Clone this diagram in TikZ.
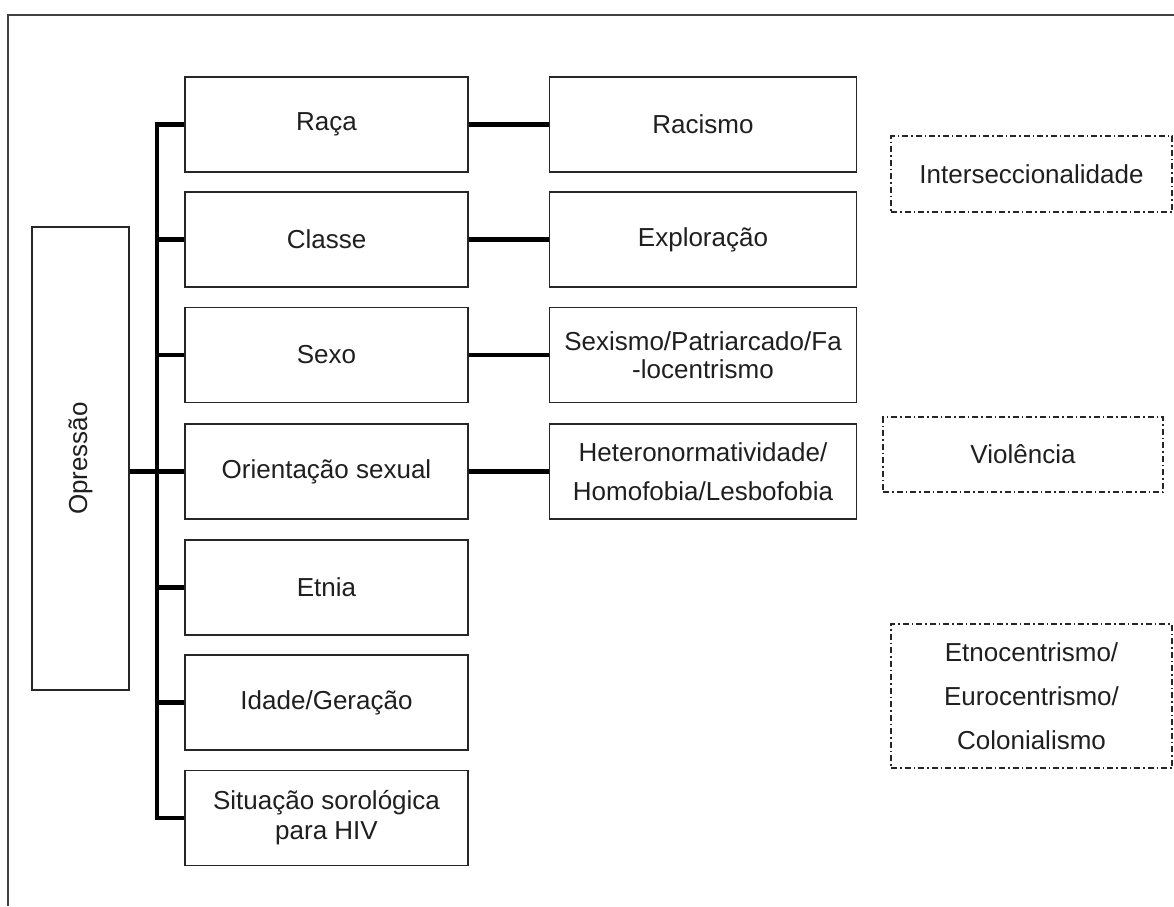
\documentclass[tikz,border=0pt]{standalone}
\usepackage{fontspec}
\setmainfont{Liberation Sans}
\begin{document}
\begin{tikzpicture}[x=1pt,y=-1pt,
  box/.style={draw=black!85, line width=1.8pt, fill=white, align=center, text=black!88, inner sep=2pt},
  lbox/.style={box, minimum width=283pt, minimum height=95pt, font=\fontsize{26}{31}\selectfont},
  rbox/.style={box, minimum width=307pt, minimum height=95pt},
  dbox/.style={draw=black!85, line width=1.2pt, dash pattern=on 6pt off 3pt on 1.5pt off 3pt, align=center, text=black!88, inner sep=2pt},
  link/.style={line width=4.5pt, black},
  frame/.style={draw=black!75, line width=1.8pt}]
\useasboundingbox (0,0) rectangle (1174,906);
\coordinate (fc) at (8,15);
\coordinate (fr) at (1174,15);
\coordinate (fb) at (8,906);
\draw[frame] (fr) -- (fc) -- (fb);

\node[box, minimum width=97pt, minimum height=463pt] (opr) at (80.5,458.5) {};
\node[rotate=90, text=black!88, font=\fontsize{26}{31}\selectfont] (oprt) at (opr.center) {Opressão};

\node[lbox] (raca) at (326.5,124.5) {Raça};
\node[lbox] (classe) at (326.5,239.5) {Classe};
\node[lbox] (sexo) at (326.5,355) {Sexo};
\node[lbox] (orient) at (326.5,471.5) {Orientação sexual};
\node[lbox] (etnia) at (326.5,587.5) {Etnia};
\node[lbox] (idade) at (326.5,702.5) {Idade/Geração};
\node[lbox, font=\fontsize{26}{30}\selectfont] (hiv) at (326.5,818) {Situação sorológica\\para HIV};

\node[rbox, font=\fontsize{26}{31}\selectfont] (racismo) at (703,124.5) {Racismo};
\node[rbox, font=\fontsize{26}{31}\selectfont] (explor) at (703,239.5) {Exploração};
\node[rbox, font=\fontsize{26}{28}\selectfont] (sexismo) at (703,355) {Sexismo/Patriarcado/Fa\\-locentrismo};
\node[rbox, font=\fontsize{26}{39}\selectfont] (hetero) at (703,471.5) {Heteronormatividade/\\Homofobia/Lesbofobia};

\node[dbox, minimum width=281pt, minimum height=76pt, font=\fontsize{26}{31}\selectfont] (inter) at (1031.5,174) {Interseccionalidade};
\node[dbox, minimum width=280pt, minimum height=75pt, font=\fontsize{26}{31}\selectfont] (viol) at (1023,454.5) {Violência};
\node[dbox, minimum width=281pt, minimum height=144pt, font=\fontsize{26}{44}\selectfont] (etno) at (1031.5,696) {Etnocentrismo/\\Eurocentrismo/\\Colonialismo};

\coordinate (sp) at (157,0);
\draw[link, line join=miter] (raca.west) -- (sp |- raca.west) -- (sp |- hiv.west) -- (hiv.west);
\foreach \n in {classe,sexo,orient,etnia,idade}
  \draw[link] (sp |- \n.west) -- (\n.west);
\draw[link] (opr.east |- orient.west) -- (sp |- orient.west);

\draw[link] (raca.east) -- (racismo.west);
\draw[link] (classe.east) -- (explor.west);
\draw[link] (sexo.east) -- (sexismo.west);
\draw[link] (orient.east) -- (hetero.west);
\end{tikzpicture}
\end{document}
